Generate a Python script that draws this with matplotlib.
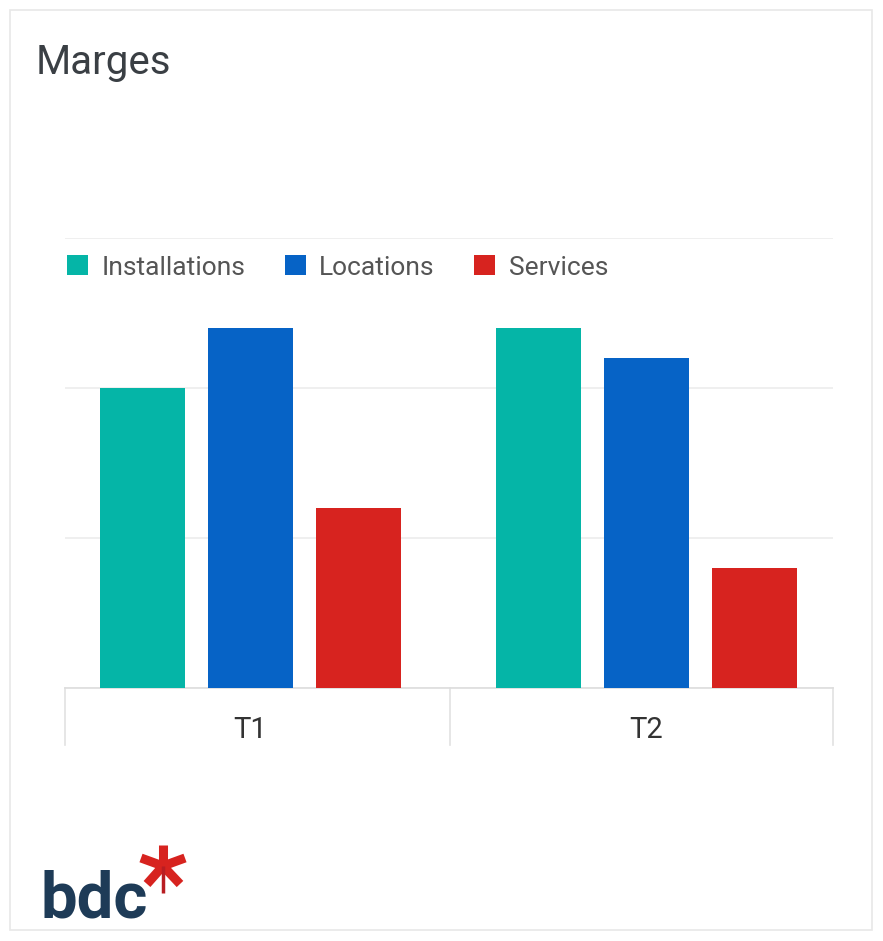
import matplotlib
matplotlib.use("Agg")
import matplotlib.pyplot as plt
from matplotlib.patches import Rectangle
from matplotlib.lines import Line2D
import matplotlib.transforms as mtransforms
import numpy as np

plt.rcParams['font.family'] = ['Roboto', 'DejaVu Sans']

categories = ["T1", "T2"]
series = ["Installations", "Locations", "Services"]
values = {
    "Installations": [10, 12],
    "Locations": [12, 11],
    "Services": [6, 4],
}
colors = {"Installations": "#05B5A7", "Locations": "#0663C6", "Services": "#D7231F"}
title = "Marges"

W, H = 883, 941
fig = plt.figure(figsize=(W / 100, H / 100), dpi=100)
fig.patch.set_facecolor("white")

def fx(px):
    return px / W

def fy(py):
    return 1 - py / H

# card border
fig.add_artist(Rectangle((fx(10), fy(930)), fx(872) - fx(10), fy(10) - fy(930),
                         transform=fig.transFigure, fill=False, edgecolor="#e8e8e8", lw=1.2))

ax = fig.add_axes([fx(65), fy(688), fx(833) - fx(65), fy(238) - fy(688)])
x = np.arange(len(categories))
unit = 396.0  # px per category unit
bw = 85 / unit
step = 108 / unit
for i, s in enumerate(series):
    ax.bar(x + (i - 1) * step, values[s], width=bw, color=colors[s], label=s, zorder=3)

xl = -(250.5 - 65) / unit
xr = 1 + (833 - 646.5) / unit
xm = (450 - 250.5) / unit
ax.set_xlim(xl, xr)
ax.set_ylim(0, 15)
ax.set_yticks([0, 5, 10, 15])
ax.set_yticklabels([])
ax.tick_params(axis='y', length=0)
ax.grid(axis='y', color="#ececec", lw=1.2, zorder=0)
for sp in ["top", "right", "left"]:
    ax.spines[sp].set_visible(False)
ax.spines["bottom"].set_color("#dddddd")
ax.spines["bottom"].set_linewidth(1.2)
ax.set_xticks(x)
ax.set_xticklabels(categories, fontsize=21, color="#333333")
ax.tick_params(axis='x', length=0, pad=20)

trans = mtransforms.blended_transform_factory(ax.transData, ax.transAxes)
for xb in [xl, xm, xr]:
    ax.add_line(Line2D([xb, xb], [0, -57 / 450], transform=trans, color="#e2e2e2",
                       lw=1.2, clip_on=False))

leg = ax.legend(loc="upper left", bbox_to_anchor=(-0.011, 0.985), ncol=3, frameon=False,
                fontsize=19, handlelength=0.8, handleheight=0.8, handletextpad=0.5,
                columnspacing=1.5, borderaxespad=0)
for t in leg.get_texts():
    t.set_color("#555555")

fig.text(fx(36), fy(62), title, fontsize=29, color="#3a3f44", va="center", ha="left")

# bdc logo
fig.text(fx(41), fy(918), "bdc", fontsize=47, fontweight="bold", color="#1E3B57",
         va="baseline", ha="left")
cx, cy = 163, 866
arms = [(163, 845), (141, 858), (185, 858), (147, 884), (180, 884)]
for ax_, ay_ in arms:
    fig.add_artist(Line2D([fx(cx), fx(ax_)], [fy(cy), fy(ay_)], transform=fig.transFigure,
                          color="#D7231F", lw=6.5, solid_capstyle="butt"))
fig.add_artist(Line2D([fx(cx), fx(cx)], [fy(cy), fy(893)], transform=fig.transFigure,
                      color="#B81D22", lw=2.5, solid_capstyle="butt"))

fig.savefig("out.png", dpi=100)
